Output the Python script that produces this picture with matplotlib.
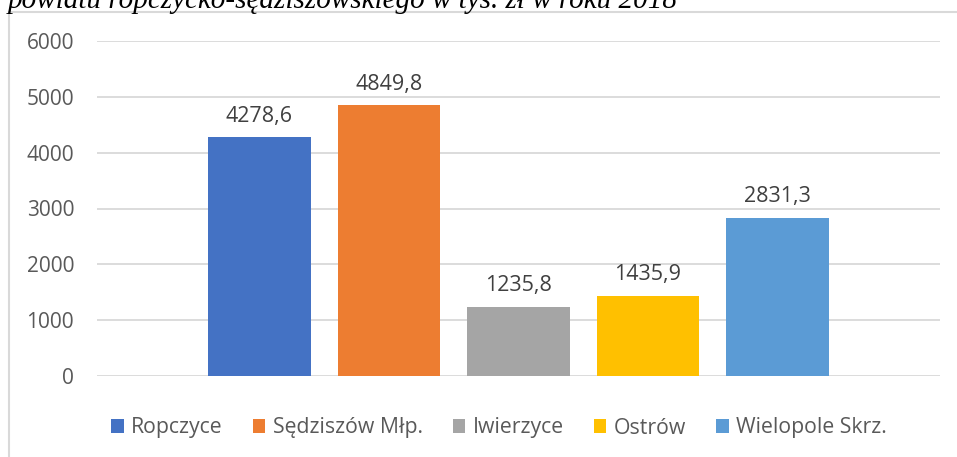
import matplotlib
matplotlib.use("Agg")
import matplotlib.pyplot as plt
from matplotlib.patches import Patch
from matplotlib.lines import Line2D

# dane
gminy = ["Ropczyce", "Sędziszów Młp.", "Iwierzyce", "Ostrów", "Wielopole Skrz."]
wartosci = [4278.6, 4849.8, 1235.8, 1435.9, 2831.3]
kolory = ["#4472C4", "#ED7D31", "#A5A5A5", "#FFC000", "#5B9BD5"]
yticks = [0, 1000, 2000, 3000, 4000, 5000, 6000]
tytul = "powiatu ropczycko-sędziszowskiego w tys. zł w roku 2018"

W, H = 957, 457
plt.rcParams['font.family'] = ['Open Sans', 'DejaVu Sans']
fig = plt.figure(figsize=(W / 100, H / 100), dpi=100)
ax = fig.add_axes([97 / W, 1 - 376 / H, (940 - 97) / W, (376 - 41) / H])

szary = "#595959"
x = list(range(len(gminy)))
ax.bar(x, wartosci, width=0.795, color=kolory, zorder=3)
for xi, v in zip(x, wartosci):
    ax.text(xi, v + 190, f"{v:.1f}".replace(".", ","), ha="center", va="bottom",
            fontsize=15.5, color="#404040")

half = (940 - 97) / 129.5 / 2
ax.set_xlim(2 - half, 2 + half)
ax.set_ylim(0, 6000)
ax.set_yticks(yticks)
ax.set_yticklabels([str(t) for t in yticks])
ax.tick_params(axis="y", length=0, pad=16.5, labelsize=15, labelcolor=szary)
ax.set_xticks([])
ax.grid(axis="y", color="#D9D9D9", linewidth=1.3, zorder=0)
for s in ax.spines.values():
    s.set_visible(False)

# legenda
uchwyty = [Patch(facecolor=c, edgecolor="none") for c in kolory]
fig.legend(uchwyty, gminy, loc="center", bbox_to_anchor=(499 / W, 1 - 428 / H),
           ncol=5, frameon=False, fontsize=15.3, handlelength=0.6, handleheight=0.6,
           handletextpad=0.35, columnspacing=1.4, labelcolor=szary)

# ramka wykresu
fig.add_artist(Line2D([8.5 / W, 8.5 / W], [0, 1 - 12 / H], color="#D9D9D9", lw=1.5))
fig.add_artist(Line2D([8.5 / W, 1], [1 - 12 / H, 1 - 12 / H], color="#D9D9D9", lw=1.5))

# tytul (uciety u gory, jak w oryginale)
t = fig.text(8 / W, 1 - 7.5 / H, tytul, ha="left", va="baseline",
             fontfamily="Liberation Serif", fontstyle="italic", fontsize=20)
r = fig.canvas.get_renderer()
szer = t.get_window_extent(r).width
t.set_fontsize(20 * 669 / szer)

fig.savefig("out.png", dpi=100)
